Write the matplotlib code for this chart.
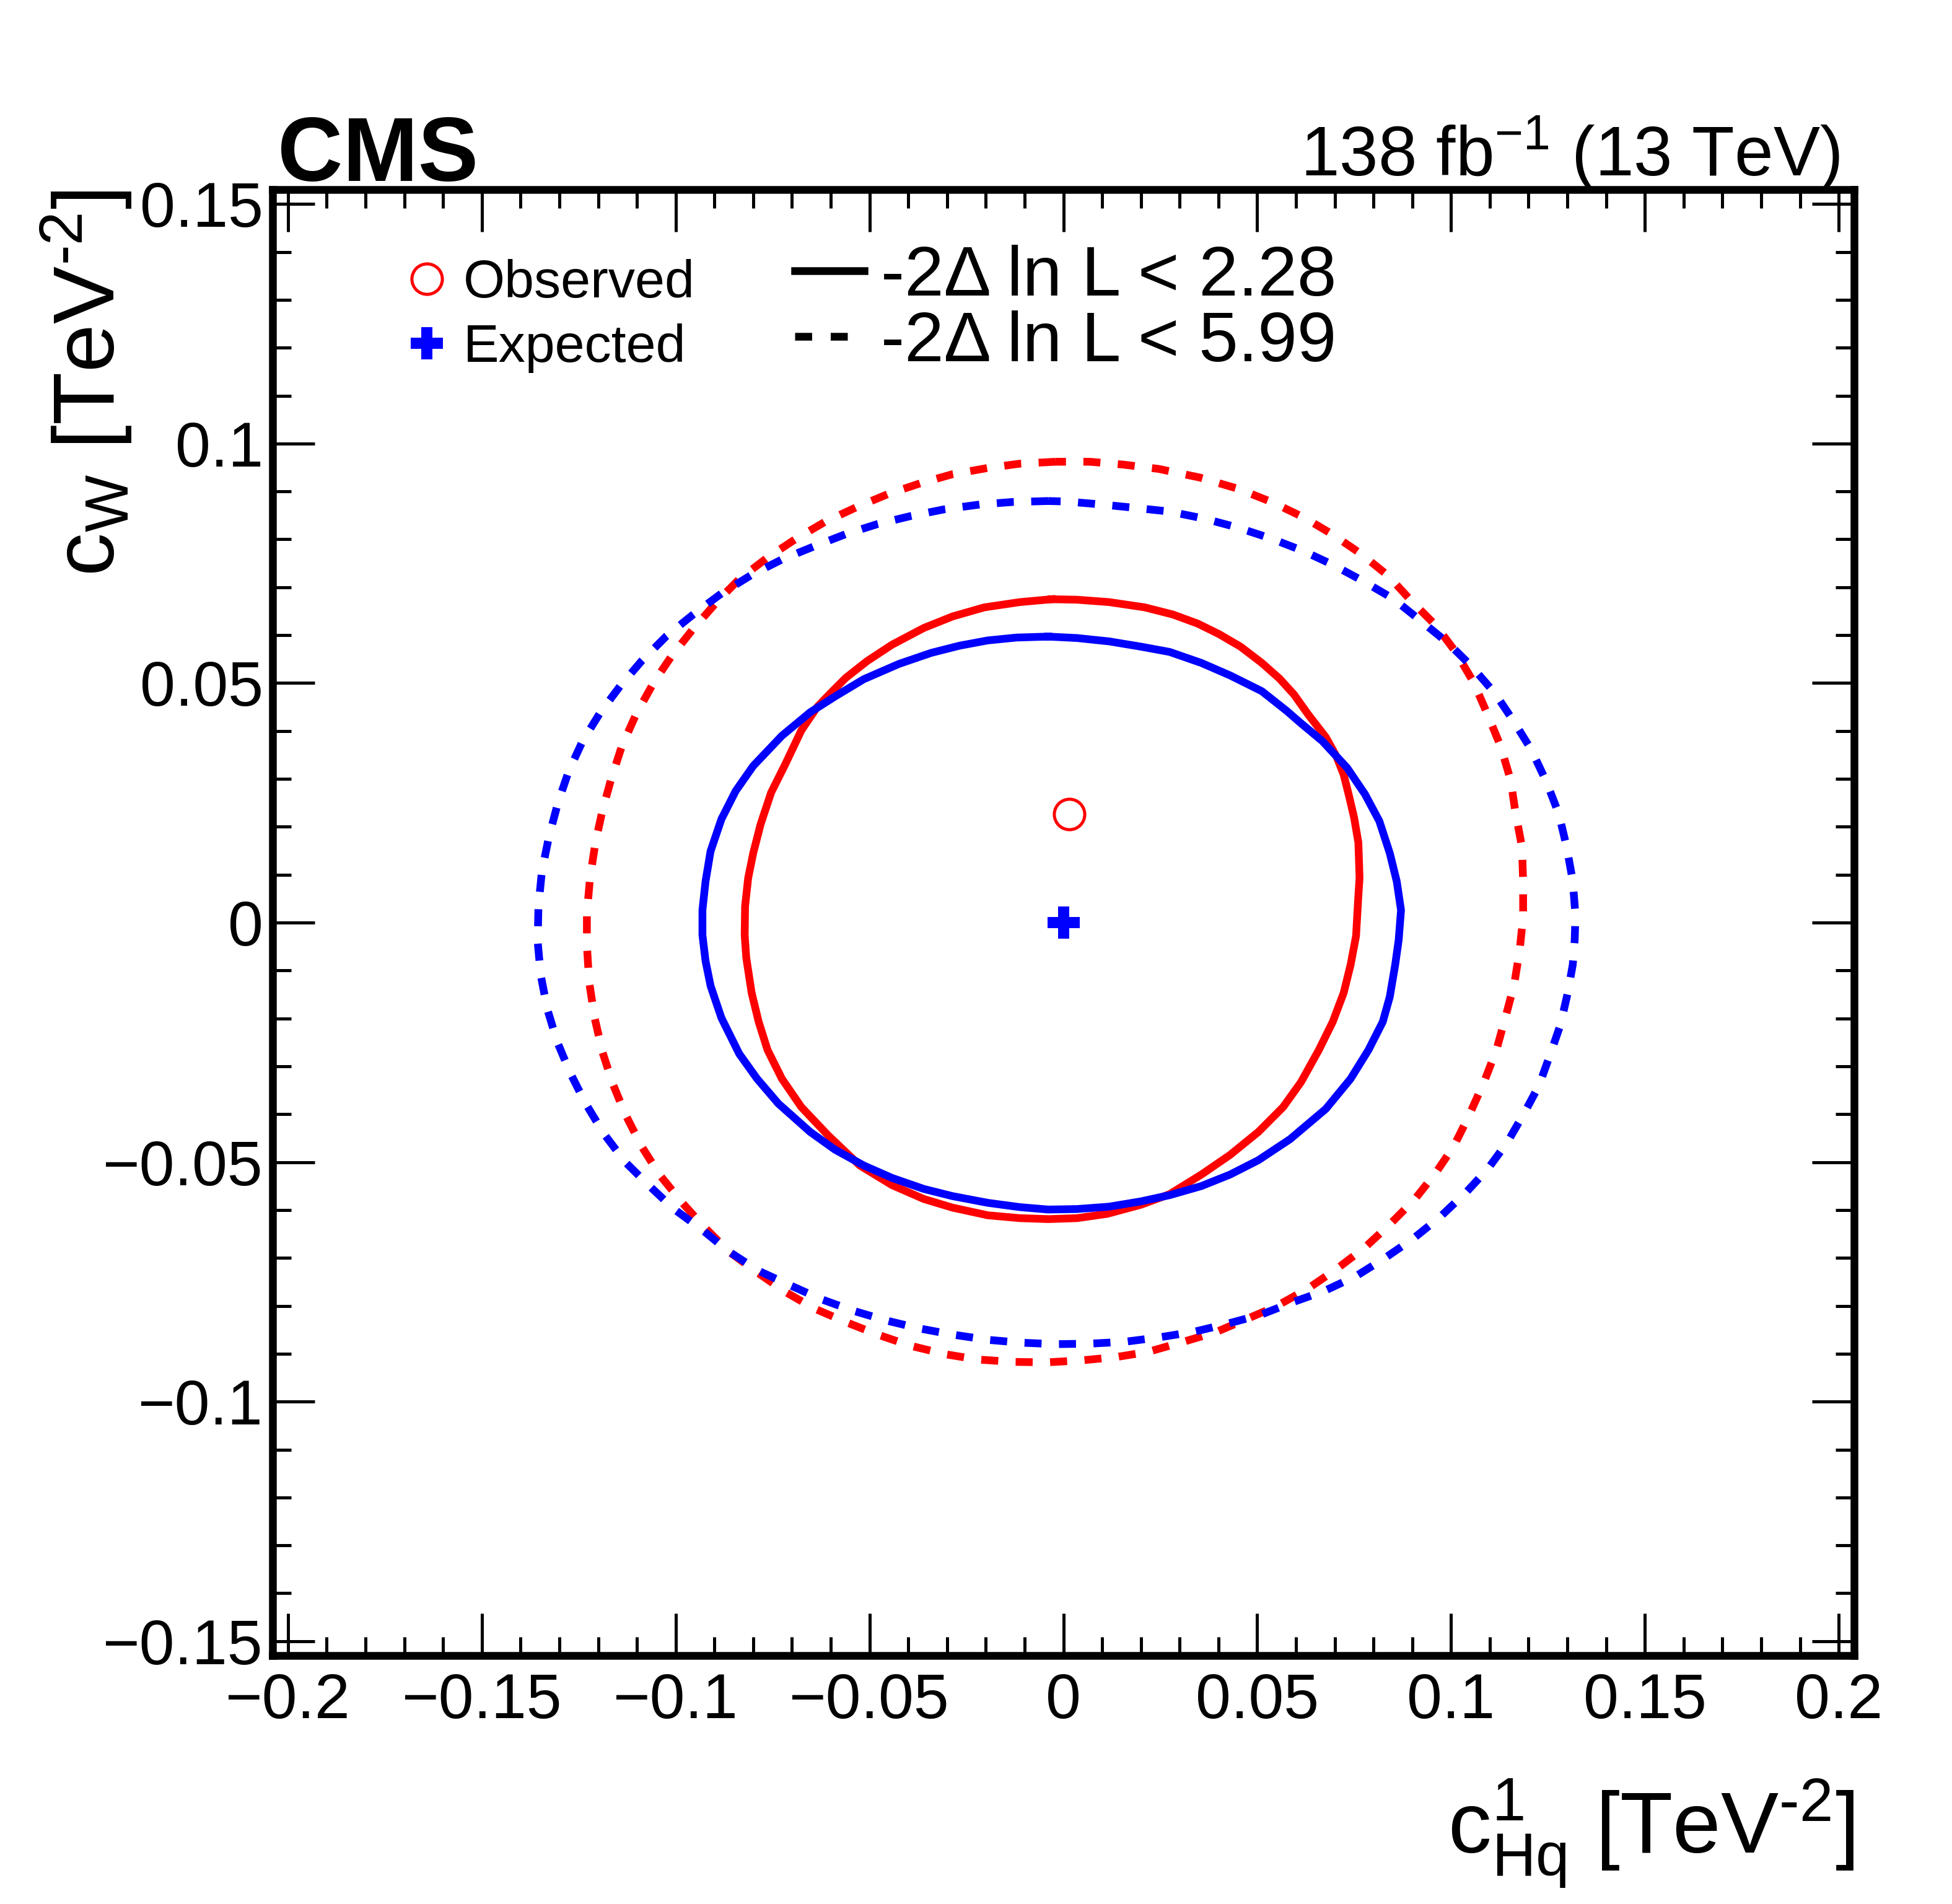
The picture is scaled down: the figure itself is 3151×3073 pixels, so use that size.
import numpy as np
import matplotlib
matplotlib.use('Agg')
import matplotlib.pyplot as plt
from matplotlib.lines import Line2D
from matplotlib.ticker import MultipleLocator, FuncFormatter

plt.rcParams['font.family'] = ['Liberation Sans', 'DejaVu Sans']
plt.rcParams['mathtext.fontset'] = 'custom'
plt.rcParams['mathtext.rm'] = 'Liberation Sans'
plt.rcParams['mathtext.it'] = 'Liberation Sans:italic'
plt.rcParams['mathtext.bf'] = 'Liberation Sans:bold'
plt.rcParams['mathtext.default'] = 'rm'

# best fit points
obs_best = (0.0015, 0.0227)
exp_best = (0.0, 0.0)

# observed -2dlnL < 2.28 contour
obs68_x = [-0.0030, -0.0112, -0.0204, -0.0286, -0.0360, -0.0442, -0.0506, -0.0561, -0.0598, -0.0635,
           -0.0676, -0.0717, -0.0754, -0.0781, -0.0800, -0.0813, -0.0821, -0.0822,
           -0.0818, -0.0804, -0.0786, -0.0763, -0.0726, -0.0676, -0.0607, -0.0525, -0.0442, -0.0360,
           -0.0286, -0.0195, -0.0112, -0.0039,
           0.0035, 0.0113, 0.0200, 0.0274, 0.0356, 0.0430, 0.0503, 0.0567, 0.0613, 0.0659, 0.0695,
           0.0723, 0.0741, 0.0755,
           0.0761, 0.0764, 0.0761, 0.0750, 0.0737, 0.0723, 0.0705, 0.0677, 0.0631, 0.0595, 0.0558,
           0.0512, 0.0457, 0.0402, 0.0347, 0.0283, 0.0210, 0.0118, 0.0035]
obs68_y = [0.0675, 0.0669, 0.0658, 0.0639, 0.0615, 0.0580, 0.0546, 0.0511, 0.0481, 0.0450,
           0.0401, 0.0331, 0.0271, 0.0205, 0.0145, 0.0093, 0.0034, -0.0026,
           -0.0073, -0.0147, -0.0207, -0.0266, -0.0326, -0.0385, -0.0444, -0.0507, -0.0548, -0.0577,
           -0.0595, -0.0611, -0.0617, -0.0619,
           -0.0617, -0.0608, -0.0589, -0.0567, -0.0526, -0.0485, -0.0437, -0.0385, -0.0333, -0.0266,
           -0.0207, -0.0147, -0.0088, -0.0028,
           0.0056, 0.0093, 0.0167, 0.0219, 0.0264, 0.0309, 0.0346, 0.0387, 0.0435, 0.0476, 0.0509,
           0.0542, 0.0576, 0.0602, 0.0624, 0.0643, 0.0658, 0.0669, 0.0674]

# expected -2dlnL < 2.28 contour
exp68_x = [-0.0039, -0.0121, -0.0195, -0.0268, -0.0341, -0.0424, -0.0515, -0.0589, -0.0653, -0.0726,
           -0.0800, -0.0845, -0.0882, -0.0910, -0.0923, -0.0931, -0.0931,
           -0.0923, -0.0910, -0.0882, -0.0836, -0.0790, -0.0735, -0.0653, -0.0589, -0.0515, -0.0442,
           -0.0360, -0.0286, -0.0195, -0.0112, -0.0039,
           0.0035, 0.0118, 0.0200, 0.0274, 0.0356, 0.0430, 0.0503, 0.0585, 0.0677, 0.0741, 0.0787,
           0.0824, 0.0842, 0.0856, 0.0865,
           0.0871, 0.0860, 0.0842, 0.0815, 0.0778, 0.0732, 0.0668, 0.0613, 0.0576, 0.0512, 0.0430,
           0.0356, 0.0274, 0.0200, 0.0118, 0.0035]
exp68_y = [0.0597, 0.0595, 0.0589, 0.0578, 0.0563, 0.0540, 0.0508, 0.0472, 0.0439, 0.0390,
           0.0327, 0.0275, 0.0216, 0.0149, 0.0086, 0.0026, -0.0026,
           -0.0080, -0.0132, -0.0199, -0.0274, -0.0326, -0.0378, -0.0437, -0.0474, -0.0507, -0.0533,
           -0.0556, -0.0571, -0.0585, -0.0594, -0.0599,
           -0.0598, -0.0593, -0.0582, -0.0569, -0.0550, -0.0526, -0.0496, -0.0452, -0.0389, -0.0326,
           -0.0266, -0.0207, -0.0155, -0.0088, -0.0036,
           0.0026, 0.0086, 0.0145, 0.0212, 0.0268, 0.0323, 0.0379, 0.0416, 0.0442, 0.0483, 0.0516,
           0.0542, 0.0565, 0.0576, 0.0587, 0.0594]

# observed -2dlnL < 5.99 contour
obs95_x = [-0.0020, -0.0112, -0.0195, -0.0286, -0.0369, -0.0451, -0.0534, -0.0616, -0.0690, -0.0763,
           -0.0836, -0.0891, -0.0955, -0.1010, -0.1056, -0.1102, -0.1139, -0.1166, -0.1189, -0.1207,
           -0.1221, -0.1229, -0.1229,
           -0.1223, -0.1209, -0.1189, -0.1162, -0.1130, -0.1088, -0.1042, -0.0983, -0.0928, -0.0864,
           -0.0790, -0.0717, -0.0644, -0.0561, -0.0479, -0.0396, -0.0305, -0.0222, -0.0130, -0.0043,
           0.0045, 0.0136, 0.0219, 0.0310, 0.0393, 0.0466, 0.0549, 0.0631, 0.0705, 0.0778,
           0.0842, 0.0906, 0.0961, 0.1007, 0.1044, 0.1085, 0.1117, 0.1140, 0.1163, 0.1177,
           0.1186, 0.1186, 0.1183, 0.1166, 0.1154, 0.1128, 0.1094, 0.1058, 0.1012, 0.0961, 0.0897,
           0.0838, 0.0769, 0.0695, 0.0622, 0.0540, 0.0453, 0.0352, 0.0246, 0.0155, 0.0068]
obs95_y = [0.0962, 0.0958, 0.0949, 0.0936, 0.0917, 0.0895, 0.0867, 0.0836, 0.0801, 0.0762,
           0.0717, 0.0672, 0.0613, 0.0557, 0.0502, 0.0435, 0.0368, 0.0301, 0.0234, 0.0167,
           0.0093, 0.0019, -0.0048,
           -0.0125, -0.0199, -0.0270, -0.0337, -0.0400, -0.0467, -0.0526, -0.0585, -0.0634, -0.0686,
           -0.0730, -0.0771, -0.0805, -0.0834, -0.0860, -0.0883, -0.0901, -0.0912, -0.0917, -0.0918,
           -0.0914, -0.0907, -0.0896, -0.0875, -0.0855, -0.0830, -0.0801, -0.0764, -0.0723, -0.0678,
           -0.0630, -0.0578, -0.0522, -0.0467, -0.0407, -0.0333, -0.0266, -0.0199, -0.0129, -0.0058,
           0.0012, 0.0086, 0.0158, 0.0231, 0.0297, 0.0368, 0.0435, 0.0502, 0.0565, 0.0620, 0.0672,
           0.0724, 0.0769, 0.0810, 0.0845, 0.0877, 0.0905, 0.0929, 0.0947, 0.0956, 0.0962]

# expected -2dlnL < 5.99 contour
exp95_x = [-0.0039, -0.0130, -0.0213, -0.0305, -0.0392, -0.0479, -0.0561, -0.0644, -0.0726, -0.0804,
           -0.0882, -0.0955, -0.1024, -0.1088, -0.1143, -0.1194, -0.1240, -0.1276, -0.1304, -0.1327,
           -0.1345, -0.1354, -0.1356,
           -0.1348, -0.1331, -0.1306, -0.1272, -0.1232, -0.1185, -0.1130, -0.1070, -0.1006, -0.0932,
           -0.0864, -0.0786, -0.0708, -0.0625, -0.0543, -0.0460, -0.0373, -0.0286, -0.0195, -0.0107,
           -0.0020,
           0.0068, 0.0159, 0.0246, 0.0338, 0.0420, 0.0508, 0.0590, 0.0673, 0.0755, 0.0828, 0.0902,
           0.0971, 0.1039, 0.1094, 0.1145, 0.1190, 0.1227, 0.1255, 0.1282, 0.1301, 0.1314, 0.1319,
           0.1321, 0.1314, 0.1298, 0.1278, 0.1246, 0.1207, 0.1161, 0.1113, 0.1053, 0.0993, 0.0925,
           0.0851, 0.0773, 0.0695, 0.0618, 0.0535, 0.0448, 0.0365, 0.0274, 0.0182, 0.0095, 0.0008]
exp95_y = [0.0880, 0.0878, 0.0873, 0.0863, 0.0849, 0.0832, 0.0811, 0.0785, 0.0758, 0.0726,
           0.0687, 0.0643, 0.0598, 0.0546, 0.0494, 0.0439, 0.0379, 0.0316, 0.0249, 0.0179,
           0.0108, 0.0034, -0.0040,
           -0.0110, -0.0181, -0.0248, -0.0314, -0.0378, -0.0441, -0.0500, -0.0548, -0.0597, -0.0641,
           -0.0686, -0.0727, -0.0756, -0.0786, -0.0810, -0.0830, -0.0847, -0.0860, -0.0871, -0.0877,
           -0.0880,
           -0.0879, -0.0875, -0.0866, -0.0854, -0.0838, -0.0819, -0.0793, -0.0769, -0.0738, -0.0701,
           -0.0660, -0.0615, -0.0563, -0.0515, -0.0459, -0.0396, -0.0340, -0.0277, -0.0214, -0.0147,
           -0.0088, -0.0036,
           0.0015, 0.0087, 0.0159, 0.0227, 0.0294, 0.0361, 0.0421, 0.0479, 0.0535, 0.0583, 0.0628,
           0.0676, 0.0713, 0.0747, 0.0776, 0.0802, 0.0825, 0.0843, 0.0858, 0.0866, 0.0873, 0.0879]

label_2sig = ['-2\u0394 ln L < 2.28', '-2\u0394 ln L < 5.99']


def closed(xs, ys):
    return np.append(xs, xs[0]), np.append(ys, ys[0])


fig = plt.figure(figsize=(3151 / 300, 3073 / 300), dpi=300)
ax = fig.add_axes([0.1396, 0.1305, 0.8103, 0.7699])

lw = 3.0
dash = (2.2, 2.25)
x, y = closed(obs68_x, obs68_y)
ax.plot(x, y, color='#ff0000', lw=lw)
x, y = closed(obs95_x, obs95_y)
ax.plot(x, y, color='#ff0000', lw=lw, dashes=dash)
x, y = closed(exp68_x, exp68_y)
ax.plot(x, y, color='#0000ff', lw=lw)
x, y = closed(exp95_x, exp95_y)
ax.plot(x, y, color='#0000ff', lw=lw, dashes=dash)

p_obs, = ax.plot([obs_best[0]], [obs_best[1]], ls='none', marker='o', ms=11.8,
                 mfc='none', mec='#ff0000', mew=1.2, label='Observed')
p_exp, = ax.plot([exp_best[0]], [exp_best[1]], ls='none', marker='P', ms=12.5,
                 mfc='#0000ff', mec='#0000ff', mew=0, label='Expected')

ax.set_xlim(-0.204, 0.204)
ax.set_ylim(-0.153, 0.153)

for s in ax.spines.values():
    s.set_linewidth(3)

ax.xaxis.set_major_locator(MultipleLocator(0.05))
ax.xaxis.set_minor_locator(MultipleLocator(0.01))
ax.yaxis.set_major_locator(MultipleLocator(0.05))
ax.yaxis.set_minor_locator(MultipleLocator(0.01))


def fmt(v, pos):
    v = round(v, 4)
    if v == 0:
        return '0'
    return ('%g' % v).replace('-', '\u2212')


ax.xaxis.set_major_formatter(FuncFormatter(fmt))
ax.yaxis.set_major_formatter(FuncFormatter(fmt))
ax.tick_params(which='both', direction='in', top=True, right=True, width=1.2, labelsize=24.5)
ax.tick_params(which='major', length=16.3)
ax.tick_params(which='minor', length=7.2)
ax.tick_params(axis='x', which='major', pad=6.5)
ax.tick_params(axis='y', which='major', pad=3.6)

ax.set_xlabel(r'$c^{1}_{Hq}$ [TeV$^{\text{-}2}$]', fontsize=33.5, loc='right')
ax.set_ylabel(r'$c_{W}$ [TeV$^{\text{-}2}$]', fontsize=33.5, loc='top')
ax.xaxis.set_label_coords(1.0, -0.083)
ax.yaxis.set_label_coords(-0.0873, 1.0)

ax.text(0.003, 1.006, 'CMS', transform=ax.transAxes, fontsize=35, fontweight='bold',
        ha='left', va='baseline')
ax.text(0.9906, 1.0093, r'138 fb$^{-1}$ (13 TeV)', transform=ax.transAxes, fontsize=27,
        ha='right', va='baseline')

leg1 = ax.legend(handles=[p_obs, p_exp], loc='upper left', bbox_to_anchor=(0.0840, 0.9527),
                 frameon=False, fontsize=20.7, borderpad=0, borderaxespad=0, handlelength=0.8,
                 handletextpad=0.284, labelspacing=0.28, numpoints=1)
ax.add_artist(leg1)

h_solid = Line2D([], [], color='black', lw=lw)
h_dash = Line2D([], [], color='black', lw=lw, dashes=(2.2, 2.4))
ax.legend(handles=[h_solid, h_dash], labels=label_2sig, loc='upper left',
          bbox_to_anchor=(0.3302, 0.9624), frameon=False, fontsize=27.4, borderpad=0,
          borderaxespad=0, handlelength=0.98, handletextpad=0.236, labelspacing=0.0)

fig.savefig('out.png', dpi=300)
